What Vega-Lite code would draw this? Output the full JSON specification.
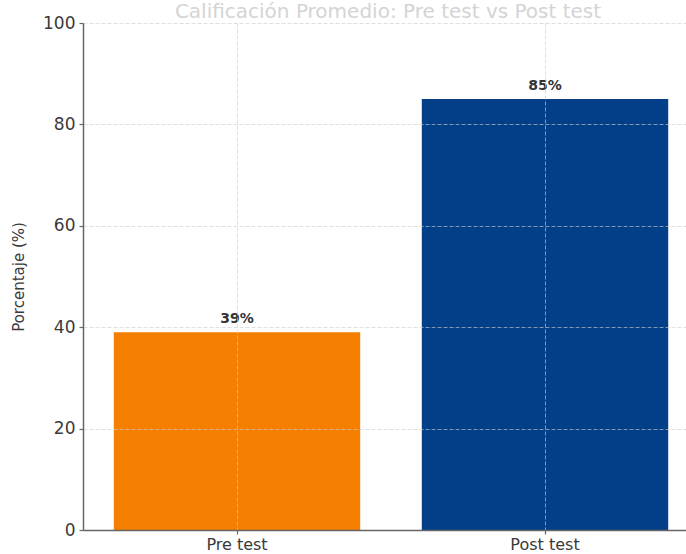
{
  "$schema": "https://vega.github.io/schema/vega-lite/v6.json",
  "autosize": "none",
  "width": 604,
  "height": 507,
  "padding": {"left": 83, "top": 23, "right": 0, "bottom": 24},
  "background": "white",
  "title": {
    "text": "Calificación Promedio: Pre test vs Post test",
    "anchor": "middle",
    "frame": "group",
    "dx": 3,
    "dy": 14,
    "offset": 6,
    "font": "DejaVu Sans",
    "fontSize": 20,
    "fontWeight": "normal",
    "color": "#d4d4d4"
  },
  "data": {
    "values": [
      {"prueba": "Pre test", "porcentaje": 39, "etiqueta": "39%"},
      {"prueba": "Post test", "porcentaje": 85, "etiqueta": "85%"}
    ]
  },
  "config": {
    "view": {"stroke": null},
    "font": "DejaVu Sans",
    "axis": {
      "labelFont": "DejaVu Sans",
      "titleFont": "DejaVu Sans",
      "labelColor": "#3a3a3a",
      "titleColor": "#3a3a3a",
      "domainColor": "#666666",
      "domainWidth": 1.5,
      "tickColor": "#666666",
      "tickWidth": 1.2,
      "tickSize": 4,
      "gridColor": "#cccccc",
      "gridDash": [4, 2],
      "gridWidth": 0.8,
      "gridOpacity": 0.8
    }
  },
  "layer": [
    {
      "mark": {"type": "bar"},
      "encoding": {
        "x": {
          "field": "prueba",
          "type": "nominal",
          "sort": ["Pre test", "Post test"],
          "scale": {"range": [0, 616], "paddingInner": 0.2, "paddingOuter": 0.1},
          "axis": {
            "title": null,
            "labelAngle": 0,
            "labelFontSize": 16,
            "labelPadding": 2,
            "grid": true,
            "zindex": 1
          }
        },
        "y": {
          "field": "porcentaje",
          "type": "quantitative",
          "scale": {"domain": [0, 100]},
          "axis": {
            "title": "Porcentaje (%)",
            "titleFontSize": 15,
            "titleFontWeight": "normal",
            "titlePadding": 16,
            "values": [0, 20, 40, 60, 80, 100],
            "labelFontSize": 17,
            "labelPadding": 4,
            "grid": true,
            "zindex": 1
          }
        },
        "color": {
          "field": "prueba",
          "type": "nominal",
          "scale": {"domain": ["Pre test", "Post test"], "range": ["#f57f00", "#033f88"]},
          "legend": null
        }
      }
    },
    {
      "mark": {
        "type": "text",
        "baseline": "bottom",
        "dy": -6,
        "fontSize": 14,
        "fontWeight": "bold",
        "font": "DejaVu Sans",
        "color": "#333333"
      },
      "encoding": {
        "x": {"field": "prueba", "type": "nominal", "sort": ["Pre test", "Post test"]},
        "y": {"field": "porcentaje", "type": "quantitative"},
        "text": {"field": "etiqueta", "type": "nominal"}
      }
    }
  ]
}
